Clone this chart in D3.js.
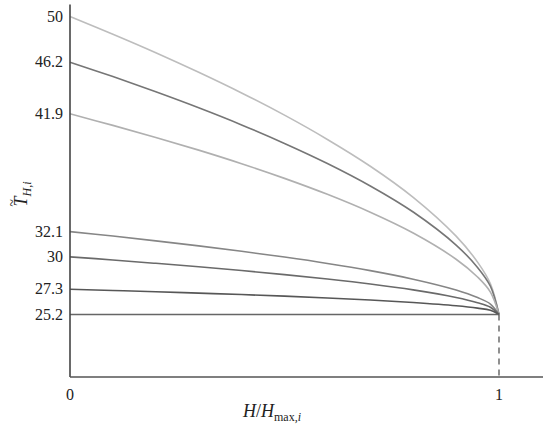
<!DOCTYPE html>
<html>
<head>
<meta charset="utf-8">
<script src="https://cdn.jsdelivr.net/npm/d3@7"></script>
<style>
  body { margin: 0; background: #fff; }
  svg { display: block; }
  text { font-family: "Liberation Serif", "DejaVu Serif", serif; fill: #222; }
</style>
</head>
<body>
<div id="chart"></div>
<script>
var hPos = [0, 0.1, 0.2, 0.3, 0.4, 0.5, 0.6, 0.7, 0.8, 0.9, 0.95, 0.98, 1];

// temperature curves (one per start value)
var curve50 = [50, 48.53, 46.99, 45.36, 43.64, 41.79, 39.77, 37.54, 34.95, 31.72, 29.56, 27.76, 25.2];
var curve462 = [46.2, 45.0, 43.73, 42.4, 40.98, 39.44, 37.77, 35.9, 33.73, 30.98, 29.12, 27.55, 25.2];
var curve419 = [41.9, 40.94, 39.94, 38.88, 37.75, 36.53, 35.2, 33.71, 31.98, 29.8, 28.32, 27.07, 25.2];
var curve321 = [32.1, 31.73, 31.33, 30.91, 30.46, 29.98, 29.45, 28.85, 28.14, 27.24, 26.61, 26.07, 25.2];
var curve30 = [30, 29.74, 29.46, 29.17, 28.86, 28.52, 28.15, 27.74, 27.25, 26.62, 26.18, 25.8, 25.2];
var curve273 = [27.3, 27.2, 27.1, 26.98, 26.86, 26.73, 26.58, 26.41, 26.2, 25.93, 25.73, 25.55, 25.2];

var baseTemp = 25.2;
var yTickValues = [50, 46.2, 41.9, 32.1, 30, 27.3, 25.2];
var xTickValues = [0, 1];

var curves = [
  { values: curve50, color: "#bdbdbd" },
  { values: curve462, color: "#767676" },
  { values: curve419, color: "#b0b0b0" },
  { values: curve321, color: "#868686" },
  { values: curve30, color: "#6a6a6a" },
  { values: curve273, color: "#575757" }
];

var width = 550, height = 427;

var svg = d3.select("#chart").append("svg")
  .attr("width", width)
  .attr("height", height);

// scales: h=0..1 -> 70..499, T=20..51 -> 377..5
var x = d3.scaleLinear().domain([0, 1]).range([70, 499]);
var y = d3.scaleLinear().domain([20, 51]).range([377, 4.5]);

var line = d3.line()
  .x(function (d) { return x(d[0]); })
  .y(function (d) { return y(d[1]); })
  .curve(d3.curveCatmullRom.alpha(0.5));

// curves
curves.forEach(function (c) {
  svg.append("path")
    .datum(hPos.map(function (h, i) { return [h, c.values[i]]; }))
    .attr("fill", "none")
    .attr("stroke", c.color)
    .attr("stroke-width", 1.6)
    .attr("d", line);
});

// horizontal line at base temperature
svg.append("line")
  .attr("x1", x(0)).attr("x2", x(1))
  .attr("y1", y(baseTemp)).attr("y2", y(baseTemp))
  .attr("stroke", "#666")
  .attr("stroke-width", 1.5);

// dashed drop line at h = 1
svg.append("line")
  .attr("x1", x(1)).attr("x2", x(1))
  .attr("y1", y(baseTemp)).attr("y2", y(20))
  .attr("stroke", "#555")
  .attr("stroke-width", 1.3)
  .attr("stroke-dasharray", "6,5");

// axes lines
svg.append("line")
  .attr("x1", x(0)).attr("x2", x(0))
  .attr("y1", y(51)).attr("y2", y(20))
  .attr("stroke", "#444")
  .attr("stroke-width", 1.6);

svg.append("line")
  .attr("x1", x(0)).attr("x2", 543)
  .attr("y1", y(20)).attr("y2", y(20))
  .attr("stroke", "#555")
  .attr("stroke-width", 1.5);

// y tick labels
svg.selectAll(".ytick")
  .data(yTickValues)
  .enter().append("text")
  .attr("class", "ytick")
  .attr("x", 63)
  .attr("y", function (d) { return y(d) + 5; })
  .attr("text-anchor", "end")
  .attr("font-size", 16)
  .text(function (d) { return d; });

// x tick labels
svg.selectAll(".xtick")
  .data(xTickValues)
  .enter().append("text")
  .attr("class", "xtick")
  .attr("x", function (d) { return x(d); })
  .attr("y", 400)
  .attr("text-anchor", "middle")
  .attr("font-size", 16)
  .text(function (d) { return d; });

// x axis title: H/H_max,i
var xt = svg.append("text")
  .attr("x", 272)
  .attr("y", 417)
  .attr("text-anchor", "middle")
  .attr("font-size", 18);
xt.append("tspan").attr("font-style", "italic").text("H");
xt.append("tspan").text("/");
xt.append("tspan").attr("font-style", "italic").text("H");
xt.append("tspan").attr("font-size", 12).attr("dy", 4).text("max,");
xt.append("tspan").attr("font-size", 12).attr("font-style", "italic").text("i");

// y axis title: T~_H,i (rotated)
var yg = svg.append("g")
  .attr("transform", "translate(27,194) rotate(-90)");
var yt = yg.append("text")
  .attr("text-anchor", "middle")
  .attr("font-size", 18);
yt.append("tspan").attr("font-style", "italic").text("T");
yt.append("tspan").attr("font-size", 12).attr("dy", 4).attr("font-style", "italic").text("H,i");
yg.append("text")
  .attr("x", -9)
  .attr("y", -10)
  .attr("text-anchor", "middle")
  .attr("font-size", 14)
  .text("~");
</script>
</body>
</html>
